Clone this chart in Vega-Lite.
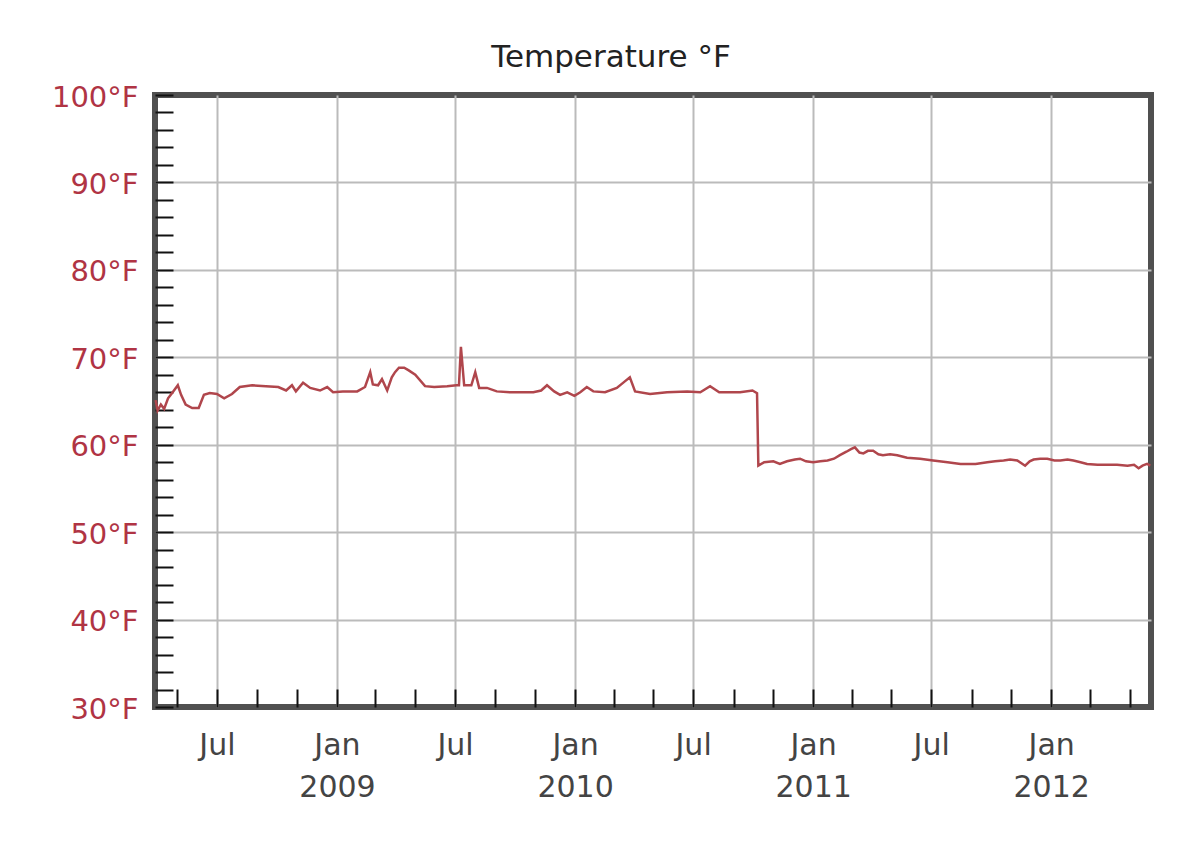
{
  "$schema": "https://vega.github.io/schema/vega-lite/v6.json",
  "width": 996,
  "height": 612,
  "autosize": {"type": "none"},
  "padding": {"left": 155, "top": 95, "right": 42, "bottom": 148},
  "background": "white",
  "title": {"text": "Temperature °F", "font": "DejaVu Sans", "fontSize": 31, "fontWeight": "normal", "color": "#222222", "offset": 9, "dx": -42},
  "config": {"view": {"stroke": "#505050", "strokeWidth": 6}},
  "data": {"values": [
    {"date": "2008-03-29", "temp": 65.1},
    {"date": "2008-04-01", "temp": 63.9},
    {"date": "2008-04-06", "temp": 64.6},
    {"date": "2008-04-11", "temp": 64.1},
    {"date": "2008-04-17", "temp": 65.3},
    {"date": "2008-04-23", "temp": 65.9},
    {"date": "2008-05-02", "temp": 66.8},
    {"date": "2008-05-07", "temp": 65.7},
    {"date": "2008-05-14", "temp": 64.6},
    {"date": "2008-05-24", "temp": 64.2},
    {"date": "2008-06-03", "temp": 64.2},
    {"date": "2008-06-11", "temp": 65.7},
    {"date": "2008-06-20", "temp": 65.9},
    {"date": "2008-07-01", "temp": 65.8},
    {"date": "2008-07-12", "temp": 65.3},
    {"date": "2008-07-24", "temp": 65.8},
    {"date": "2008-08-05", "temp": 66.6},
    {"date": "2008-08-24", "temp": 66.8},
    {"date": "2008-09-14", "temp": 66.7},
    {"date": "2008-10-03", "temp": 66.6},
    {"date": "2008-10-15", "temp": 66.2},
    {"date": "2008-10-24", "temp": 66.8},
    {"date": "2008-10-30", "temp": 66.1},
    {"date": "2008-11-10", "temp": 67.1},
    {"date": "2008-11-21", "temp": 66.5},
    {"date": "2008-12-06", "temp": 66.2},
    {"date": "2008-12-17", "temp": 66.6},
    {"date": "2008-12-26", "temp": 66.0},
    {"date": "2009-01-10", "temp": 66.1},
    {"date": "2009-02-01", "temp": 66.1},
    {"date": "2009-02-13", "temp": 66.6},
    {"date": "2009-02-21", "temp": 68.3},
    {"date": "2009-02-25", "temp": 66.9},
    {"date": "2009-03-05", "temp": 66.8},
    {"date": "2009-03-11", "temp": 67.5},
    {"date": "2009-03-19", "temp": 66.2},
    {"date": "2009-03-26", "temp": 67.7},
    {"date": "2009-03-31", "temp": 68.3},
    {"date": "2009-04-06", "temp": 68.8},
    {"date": "2009-04-14", "temp": 68.8},
    {"date": "2009-04-21", "temp": 68.5},
    {"date": "2009-05-01", "temp": 68.0},
    {"date": "2009-05-16", "temp": 66.7},
    {"date": "2009-05-30", "temp": 66.6},
    {"date": "2009-06-19", "temp": 66.7},
    {"date": "2009-07-03", "temp": 66.8},
    {"date": "2009-07-07", "temp": 66.8},
    {"date": "2009-07-10", "temp": 71.2},
    {"date": "2009-07-15", "temp": 66.8},
    {"date": "2009-07-26", "temp": 66.8},
    {"date": "2009-08-01", "temp": 68.3},
    {"date": "2009-08-07", "temp": 66.5},
    {"date": "2009-08-19", "temp": 66.5},
    {"date": "2009-09-03", "temp": 66.1},
    {"date": "2009-09-23", "temp": 66.0},
    {"date": "2009-10-29", "temp": 66.0},
    {"date": "2009-11-10", "temp": 66.2},
    {"date": "2009-11-19", "temp": 66.8},
    {"date": "2009-11-30", "temp": 66.1},
    {"date": "2009-12-09", "temp": 65.7},
    {"date": "2009-12-20", "temp": 66.0},
    {"date": "2009-12-31", "temp": 65.6},
    {"date": "2010-01-09", "temp": 66.0},
    {"date": "2010-01-19", "temp": 66.6},
    {"date": "2010-01-29", "temp": 66.1},
    {"date": "2010-02-16", "temp": 66.0},
    {"date": "2010-03-06", "temp": 66.5},
    {"date": "2010-03-16", "temp": 67.1},
    {"date": "2010-03-26", "temp": 67.7},
    {"date": "2010-04-03", "temp": 66.1},
    {"date": "2010-04-26", "temp": 65.8},
    {"date": "2010-05-22", "temp": 66.0},
    {"date": "2010-06-22", "temp": 66.1},
    {"date": "2010-07-12", "temp": 66.0},
    {"date": "2010-07-27", "temp": 66.7},
    {"date": "2010-08-10", "temp": 66.0},
    {"date": "2010-09-11", "temp": 66.0},
    {"date": "2010-09-30", "temp": 66.2},
    {"date": "2010-10-07", "temp": 65.9},
    {"date": "2010-10-09", "temp": 57.6},
    {"date": "2010-10-18", "temp": 58.0},
    {"date": "2010-11-01", "temp": 58.1},
    {"date": "2010-11-11", "temp": 57.8},
    {"date": "2010-11-22", "temp": 58.1},
    {"date": "2010-12-04", "temp": 58.3},
    {"date": "2010-12-12", "temp": 58.4},
    {"date": "2010-12-21", "temp": 58.1},
    {"date": "2011-01-01", "temp": 58.0},
    {"date": "2011-01-12", "temp": 58.1},
    {"date": "2011-01-23", "temp": 58.2},
    {"date": "2011-02-02", "temp": 58.4},
    {"date": "2011-02-11", "temp": 58.8},
    {"date": "2011-02-21", "temp": 59.2},
    {"date": "2011-02-28", "temp": 59.5},
    {"date": "2011-03-06", "temp": 59.7},
    {"date": "2011-03-13", "temp": 59.1},
    {"date": "2011-03-19", "temp": 59.0},
    {"date": "2011-03-26", "temp": 59.3},
    {"date": "2011-04-03", "temp": 59.3},
    {"date": "2011-04-11", "temp": 58.9},
    {"date": "2011-04-18", "temp": 58.8},
    {"date": "2011-04-29", "temp": 58.9},
    {"date": "2011-05-10", "temp": 58.8},
    {"date": "2011-05-25", "temp": 58.5},
    {"date": "2011-06-14", "temp": 58.4},
    {"date": "2011-07-04", "temp": 58.2},
    {"date": "2011-07-26", "temp": 58.0},
    {"date": "2011-08-15", "temp": 57.8},
    {"date": "2011-09-07", "temp": 57.8},
    {"date": "2011-09-25", "temp": 58.0},
    {"date": "2011-10-07", "temp": 58.1},
    {"date": "2011-10-20", "temp": 58.2},
    {"date": "2011-10-30", "temp": 58.3},
    {"date": "2011-11-10", "temp": 58.2},
    {"date": "2011-11-22", "temp": 57.6},
    {"date": "2011-11-29", "temp": 58.1},
    {"date": "2011-12-05", "temp": 58.3},
    {"date": "2011-12-15", "temp": 58.4},
    {"date": "2011-12-26", "temp": 58.4},
    {"date": "2012-01-06", "temp": 58.2},
    {"date": "2012-01-15", "temp": 58.2},
    {"date": "2012-01-26", "temp": 58.3},
    {"date": "2012-02-04", "temp": 58.2},
    {"date": "2012-02-15", "temp": 58.0},
    {"date": "2012-02-25", "temp": 57.8},
    {"date": "2012-03-12", "temp": 57.7},
    {"date": "2012-03-27", "temp": 57.7},
    {"date": "2012-04-11", "temp": 57.7},
    {"date": "2012-04-27", "temp": 57.6},
    {"date": "2012-05-07", "temp": 57.7},
    {"date": "2012-05-14", "temp": 57.3},
    {"date": "2012-05-20", "temp": 57.6},
    {"date": "2012-05-27", "temp": 57.8},
    {"date": "2012-06-01", "temp": 57.6}
  ]},
  "layer": [
    {
      "mark": {"type": "line", "strokeOpacity": 0},
      "encoding": {
        "x": {
          "field": "date", "type": "temporal",
          "scale": {"type": "utc", "domain": [{"year": 2008, "month": 3, "date": 28, "utc": true}, {"year": 2012, "month": 6, "date": 2, "utc": true}]},
          "axis": {
            "orient": "bottom", "title": null,
            "values": [
              {"year": 2008, "month": 7, "date": 1, "utc": true},
              {"year": 2009, "month": 1, "date": 1, "utc": true},
              {"year": 2009, "month": 7, "date": 1, "utc": true},
              {"year": 2010, "month": 1, "date": 1, "utc": true},
              {"year": 2010, "month": 7, "date": 1, "utc": true},
              {"year": 2011, "month": 1, "date": 1, "utc": true},
              {"year": 2011, "month": 7, "date": 1, "utc": true},
              {"year": 2012, "month": 1, "date": 1, "utc": true}
            ],
            "grid": true, "gridColor": "#bbbbbb", "gridWidth": 2,
            "ticks": false, "tickSize": 0, "domain": false,
            "labelExpr": "utcmonth(datum.value) == 0 ? ['Jan', utcFormat(datum.value, '%Y')] : 'Jul'",
            "labelFont": "DejaVu Sans", "labelFontSize": 30, "labelColor": "#444444",
            "labelPadding": 23, "labelBaseline": "top", "labelLineHeight": 42,
            "labelFlush": false, "labelOverlap": false
          }
        },
        "y": {
          "field": "temp", "type": "quantitative",
          "scale": {"domain": [30, 100], "nice": false, "zero": false},
          "axis": {
            "orient": "left", "title": null,
            "values": [30, 40, 50, 60, 70, 80, 90, 100],
            "grid": true, "gridColor": "#bbbbbb", "gridWidth": 2,
            "gridOpacity": {"condition": {"test": "datum.value == 30 || datum.value == 100", "value": 0}, "value": 1},
            "ticks": false, "tickSize": 0, "domain": false,
            "labelExpr": "datum.value + '°F'",
            "labelFont": "DejaVu Sans", "labelFontSize": 29, "labelColor": "#b03444",
            "labelPadding": 17, "labelBaseline": "middle", "labelOffset": 2,
            "labelFlush": false, "labelOverlap": false
          }
        }
      }
    },
    {
      "mark": {"type": "line", "color": "#b0464c", "strokeWidth": 2.5},
      "encoding": {
        "x": {
          "field": "date", "type": "temporal",
          "axis": {
            "orient": "bottom", "title": null,
            "values": [
              {"year": 2008, "month": 5, "date": 1, "utc": true},
              {"year": 2008, "month": 7, "date": 1, "utc": true},
              {"year": 2008, "month": 9, "date": 1, "utc": true},
              {"year": 2008, "month": 11, "date": 1, "utc": true},
              {"year": 2009, "month": 1, "date": 1, "utc": true},
              {"year": 2009, "month": 3, "date": 1, "utc": true},
              {"year": 2009, "month": 5, "date": 1, "utc": true},
              {"year": 2009, "month": 7, "date": 1, "utc": true},
              {"year": 2009, "month": 9, "date": 1, "utc": true},
              {"year": 2009, "month": 11, "date": 1, "utc": true},
              {"year": 2010, "month": 1, "date": 1, "utc": true},
              {"year": 2010, "month": 3, "date": 1, "utc": true},
              {"year": 2010, "month": 5, "date": 1, "utc": true},
              {"year": 2010, "month": 7, "date": 1, "utc": true},
              {"year": 2010, "month": 9, "date": 1, "utc": true},
              {"year": 2010, "month": 11, "date": 1, "utc": true},
              {"year": 2011, "month": 1, "date": 1, "utc": true},
              {"year": 2011, "month": 3, "date": 1, "utc": true},
              {"year": 2011, "month": 5, "date": 1, "utc": true},
              {"year": 2011, "month": 7, "date": 1, "utc": true},
              {"year": 2011, "month": 9, "date": 1, "utc": true},
              {"year": 2011, "month": 11, "date": 1, "utc": true},
              {"year": 2012, "month": 1, "date": 1, "utc": true},
              {"year": 2012, "month": 3, "date": 1, "utc": true},
              {"year": 2012, "month": 5, "date": 1, "utc": true}
            ],
            "grid": false, "labels": false, "domain": false,
            "ticks": true, "tickSize": -18, "tickColor": "#111111", "tickWidth": 2
          }
        },
        "y": {
          "field": "temp", "type": "quantitative",
          "axis": {
            "orient": "left", "title": null,
            "values": [30, 32, 34, 36, 38, 40, 42, 44, 46, 48, 50, 52, 54, 56, 58, 60, 62, 64, 66, 68, 70, 72, 74, 76, 78, 80, 82, 84, 86, 88, 90, 92, 94, 96, 98, 100],
            "grid": false, "labels": false, "domain": false,
            "ticks": true, "tickSize": -18, "tickColor": "#111111", "tickWidth": 2
          }
        }
      }
    }
  ],
  "resolve": {"axis": {"x": "independent", "y": "independent"}}
}
